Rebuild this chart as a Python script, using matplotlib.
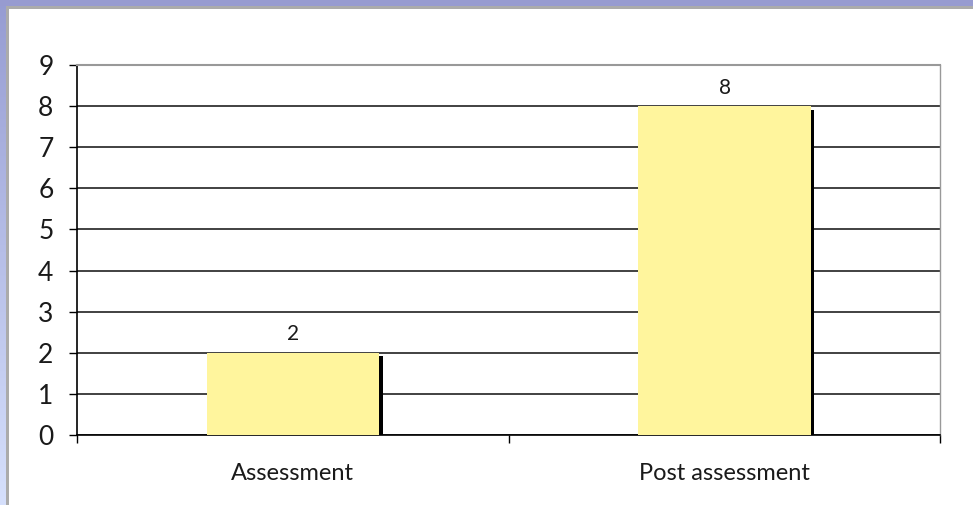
import numpy as np
import matplotlib.pyplot as plt
import matplotlib.patheffects as pe
from matplotlib.patches import Rectangle

categories = ['Assessment', 'Post assessment']
values = [2, 8]
y_ticks = [0, 1, 2, 3, 4, 5, 6, 7, 8, 9]

plt.rcParams['font.family'] = ['Lato', 'DejaVu Sans']
plt.rcParams['font.weight'] = 'normal'

fig = plt.figure(figsize=(9.73, 5.05), dpi=100)
fig.patch.set_facecolor('white')

# frame around the chart: gradient strip at left, band on top, thin grey lines
W, H = 973.0, 505.0
left_ax = fig.add_axes([0, 0, 6 / W, 1])
grad = np.linspace(0, 1, 256).reshape(-1, 1)
top_col = np.array([150, 156, 210]) / 255
bot_col = np.array([214, 224, 252]) / 255
img = top_col[None, None, :] * (1 - grad[:, :, None]) + bot_col[None, None, :] * grad[:, :, None]
left_ax.imshow(img, aspect='auto', extent=[0, 1, 0, 1])
left_ax.axis('off')
fig.patches.append(Rectangle((0, 1 - 6 / H), 1, 6 / H, transform=fig.transFigure,
                             facecolor='#979BD0', edgecolor='none', zorder=5))
fig.patches.append(Rectangle((6 / W, 1 - 9 / H), 1, 3 / H, transform=fig.transFigure,
                             facecolor='#ABABAB', edgecolor='none', zorder=5))
fig.patches.append(Rectangle((6 / W, 0), 3 / W, 1 - 6 / H, transform=fig.transFigure,
                             facecolor='#ABABAB', edgecolor='none', zorder=5))

ax = fig.add_axes([77 / W, 70 / H, (940.5 - 77) / W, (435 - 65) / H])
x = np.arange(len(categories))

bars = ax.bar(x, values, width=0.4, color='#FFF59D', edgecolor='none', zorder=3)
for b in bars:
    b.set_path_effects([pe.SimplePatchShadow(offset=(2.5, -2.5), shadow_rgbFace='black', alpha=1.0),
                        pe.Normal()])

for xi, v in zip(x, values):
    ax.annotate(str(v), (xi, v), xytext=(0, 6), textcoords='offset points',
                ha='center', va='bottom', fontsize=15, color='#1a1a1a')

ax.set_xlim(-0.5, len(categories) - 0.5)
ax.set_ylim(0, 9)
ax.set_yticks(y_ticks)
ax.yaxis.grid(True, color='#333333', linewidth=1.3, zorder=1)
ax.set_axisbelow(True)

ax.spines['top'].set_color('#999999')
ax.spines['top'].set_linewidth(1.5)
ax.spines['right'].set_color('#999999')
ax.spines['right'].set_linewidth(1.0)
ax.spines['left'].set_color('black')
ax.spines['left'].set_linewidth(1.2)
ax.spines['bottom'].set_color('black')
ax.spines['bottom'].set_linewidth(1.2)

ax.tick_params(axis='y', direction='out', length=6, width=1.0, pad=11,
               labelsize=19, labelcolor='#1a1a1a')
ax.set_xticks(x)
ax.set_xticklabels(categories)
ax.set_xticks([-0.5, 0.5, 1.5], minor=True)
ax.tick_params(axis='x', which='major', length=0, pad=20, labelsize=17, labelcolor='#1a1a1a')
ax.tick_params(axis='x', which='minor', direction='out', length=6, width=1.0)

fig.savefig('out.png', dpi=100)
